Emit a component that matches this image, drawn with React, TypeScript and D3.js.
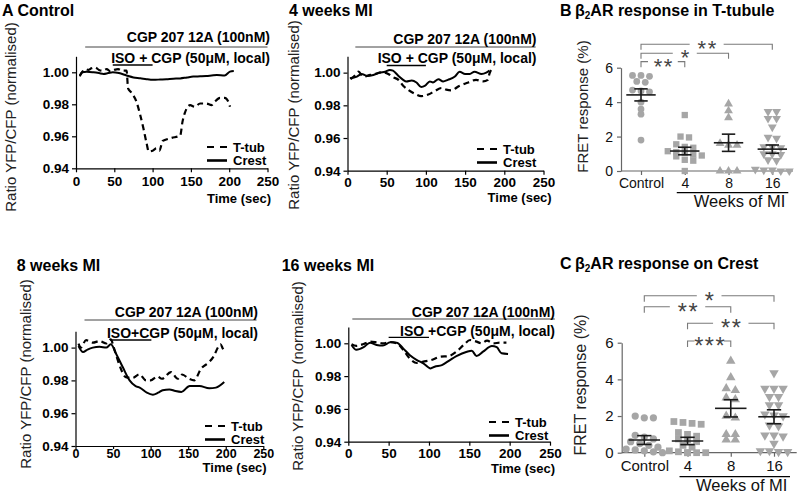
import * as d3 from "d3";
import { useEffect, useRef } from "react";

// ---------- time courses (time in sec, normalised YFP/CFP ratio) ----------
const ctlTubT = [5, 8, 12, 16, 20, 25, 30, 35, 40, 45, 50, 55, 60, 66, 68, 72, 79, 84, 88, 92, 95, 100, 105, 109, 113, 116, 125, 136, 139, 142, 149, 155, 162, 170, 177, 181, 188, 194, 199, 201];
const ctlTubV = [0.998, 1.0, 1.002, 1.0015, 1.0025, 1.003, 1.0015, 1.001, 1.002, 1.0005, 1.0015, 1.002, 1.001, 1.001, 0.99, 0.9875, 0.9815, 0.973, 0.965, 0.956, 0.9505, 0.951, 0.9525, 0.951, 0.957, 0.9577, 0.959, 0.9605, 0.969, 0.9745, 0.9795, 0.9785, 0.9805, 0.9805, 0.9795, 0.9815, 0.984, 0.984, 0.9815, 0.9785];
const ctlCrestT = [5, 8, 14, 23, 30, 36, 42, 48, 56, 66, 75, 84, 92, 101, 110, 118, 127, 136, 145, 153, 162, 170, 177, 184, 194, 201, 206];
const ctlCrestV = [0.9975, 1.0, 1.0004, 1.0, 0.9995, 0.999, 0.9995, 1.0, 0.9995, 0.998, 0.9968, 0.9963, 0.9957, 0.9953, 0.9955, 0.9957, 0.996, 0.9962, 0.9968, 0.9973, 0.9975, 0.9977, 0.998, 0.9983, 0.998, 1.0004, 1.0008];

const mi4TubT = [4, 10, 14, 20, 29, 35, 44, 52, 58, 65, 71, 77, 86, 94, 103, 111, 120, 126, 132, 143, 154, 164, 173, 179, 181, 183];
const mi4TubV = [0.996, 0.9986, 1.0006, 0.9976, 0.9986, 0.9992, 1.0002, 0.9992, 0.9972, 0.9956, 0.992, 0.9896, 0.987, 0.9856, 0.9866, 0.9886, 0.9906, 0.9896, 0.9892, 0.992, 0.994, 0.9956, 0.9946, 0.9956, 0.9992, 1.0016];
const mi4CrestT = [3, 12, 18, 25, 33, 41, 48, 54, 58, 65, 71, 75, 82, 88, 94, 99, 105, 109, 116, 122, 128, 137, 143, 150, 156, 162, 171, 177, 181];
const mi4CrestV = [0.9966, 0.9976, 0.9992, 0.998, 0.9986, 1.0, 1.0006, 1.0016, 1.0012, 0.998, 0.9956, 0.9946, 0.9952, 0.994, 0.9912, 0.992, 0.9946, 0.994, 0.996, 0.9946, 0.9956, 0.9976, 1.0006, 0.9992, 0.9992, 1.0006, 0.9992, 1.0, 1.0012];

const mi8TubT = [4, 7, 14, 23, 32, 41, 47, 51, 58, 67, 76, 85, 94, 100, 109, 115, 127, 136, 142, 151, 158, 167, 178, 184, 190, 193, 196, 199];
const mi8TubV = [1.0024, 1.0, 1.0045, 1.003, 1.004, 1.0025, 1.005, 1.0, 0.99, 0.982, 0.9815, 0.9837, 0.98, 0.98, 0.9824, 0.981, 0.9851, 0.981, 0.9836, 0.981, 0.98, 0.9871, 0.9912, 0.9947, 1.0004, 1.002, 0.9995, 0.997];
const mi8CrestT = [4, 10, 16, 23, 32, 41, 47, 54, 63, 72, 80, 86, 95, 103, 110, 116, 125, 133, 141, 152, 165, 178, 187, 198];
const mi8CrestV = [1.001, 0.9973, 0.9988, 1.0, 1.0005, 1.0, 1.002, 0.9963, 0.988, 0.98, 0.9765, 0.9755, 0.9725, 0.9713, 0.9725, 0.974, 0.9745, 0.9735, 0.973, 0.9766, 0.9766, 0.9752, 0.9756, 0.979];

const mi16TubT = [4, 10, 19, 27, 35, 43, 52, 60, 68, 76, 85, 93, 103, 114, 124, 134, 143, 151, 159, 165, 172, 180, 188, 196];
const mi16TubV = [0.9994, 0.9984, 0.9996, 1.001, 1.0006, 1.0, 1.0008, 1.0, 0.996, 0.9908, 0.988, 0.9888, 0.9898, 0.9918, 0.9922, 0.9949, 0.999, 1.002, 1.001, 1.0, 1.0016, 1.0, 1.0004, 1.0004];
const mi16CrestT = [4, 10, 19, 27, 35, 43, 52, 60, 68, 76, 85, 93, 102, 107, 116, 126, 134, 147, 153, 159, 167, 178, 184, 190, 198];
const mi16CrestV = [0.999, 0.996, 0.9976, 1.0004, 0.999, 0.9986, 1.0006, 1.0004, 0.9969, 0.9929, 0.9898, 0.9878, 0.9847, 0.9857, 0.9867, 0.9898, 0.9922, 0.9949, 0.9955, 0.9922, 0.9949, 0.9984, 0.9976, 0.9939, 0.9935];

const yTicksRatio = [0.94, 0.96, 0.98, 1.0];
const xTicksTime = [0, 50, 100, 150, 200, 250];
const legendLabels = ["T-tub", "Crest"];

// ---------- FRET responses (%) ----------
const groups = ["Control", "4", "8", "16"];
const yTicksFret = [0, 2, 4, 6];

const bCtl = [5.55, 5.55, 5.5, 5.2, 5.15, 4.7, 4.65, 4.6, 4.0, 3.6, 3.3, 1.8];
const bMi4 = [3.25, 2.0, 1.95, 1.55, 1.4, 1.35, 1.15, 1.1, 1.05, 0.95, 0.9, 0.85, 0.65, 0.6, 0.0];
const bMi8 = [3.9, 3.5, 3.1, 1.6, 1.5, 1.5, 0.0, 0.0, 0.0];
const bMi16 = [3.45, 3.45, 3.05, 3.05, 2.55, 1.95, 1.9, 1.4, 1.4, 1.35, 1.0, 1.0, 0.95, 0.65, 0.6, 0.1, 0.05, 0.05, 0.0, 0.0];
const bMean = [4.42, 1.16, 1.64, 1.27];
const bSem = [0.35, 0.22, 0.5, 0.24];
const bBrFrom = ["Control", "Control", "Control"];
const bBrTo = ["4", "8", "16"];
const bBrStars = ["**", "*", "**"];
const bBrH = [6.35, 6.84, 7.36];

const cCtl = [2.0, 1.9, 1.9, 0.95, 0.85, 0.75, 0.6, 0.5, 0.4, 0.3, 0.2, 0.15, 0.1, 0.05, 0.0];
const cMi4 = [1.7, 1.65, 1.6, 1.55, 1.1, 1.0, 0.9, 0.75, 0.7, 0.6, 0.4, 0.3, 0.1, 0.05, 0.0, 0.0, 0.0, 0.0];
const cMi8 = [5.0, 4.1, 3.5, 3.4, 3.0, 2.9, 2.0, 1.9, 1.0, 1.0, 0.7, 0.7];
const cMi16 = [4.35, 3.5, 3.5, 3.5, 3.05, 3.05, 2.6, 2.6, 2.1, 2.05, 2.0, 1.5, 1.45, 0.95, 0.95, 0.9, 0.5, 0.1, 0.1, 0.05, 0.05];
const cMean = [0.69, 0.64, 2.42, 1.96];
const cSem = [0.24, 0.2, 0.47, 0.38];
const cBrFrom = ["4", "4", "Control", "Control"];
const cBrTo = ["8", "16", "8", "16"];
const cBrStars = ["***", "**", "**", "*"];
const cBrH = [6.09, 7.06, 7.96, 8.56];

const FONT = "'Liberation Sans', Arial, Helvetica, sans-serif";
const GREY = "#a6a6a6";

type Sel = d3.Selection<SVGSVGElement, unknown, null, undefined>;

const linePanels = [
  {
    title: "A Control", tx: 2, ty: 16, x0: 76, x1: 267.5, yBot: 168.3, yTop: 56.3, labX: 16, labY: 117,
    tub: [ctlTubT, ctlTubV], crest: [ctlCrestT, ctlCrestV],
    cgp: [12, 250], cgpY: 42, cgpLineY: 47, iso: [48, 100], isoText: "ISO + CGP (50\u03bcM, local)", isoY: 63, isoLineY: 65,
    textEnd: 270, legX: 207, legY: 147, timeEnd: 271, timeY: 202.5, xPad: 4, xFs: 13.5, xTick: 4,
  },
  {
    title: "4 weeks MI", tx: 289, ty: 16, x0: 347.5, x1: 543.5, yBot: 170.7, yTop: 56.3, labX: 299, labY: 115,
    tub: [mi4TubT, mi4TubV], crest: [mi4CrestT, mi4CrestV],
    cgp: [10, 240], cgpY: 44, cgpLineY: 47, iso: [50, 100], isoText: "ISO + CGP (50\u03bcM, local)", isoY: 63, isoLineY: 65.5,
    textEnd: 536.5, legX: 477, legY: 149, timeEnd: 551.7, timeY: 202, xPad: 2.5, xFs: 13.5, xTick: 4,
  },
  {
    title: "8 weeks MI", tx: 16.7, ty: 271, x0: 75.5, x1: 263.3, yBot: 446, yTop: 331.2, labX: 31, labY: 374,
    tub: [mi8TubT, mi8TubV], crest: [mi8CrestT, mi8CrestV],
    cgp: [12, 241], cgpY: 316.5, cgpLineY: 320, iso: [46, 101], isoText: "ISO+CGP (50\u03bcM, local)", isoY: 338, isoLineY: 340,
    textEnd: 258, legX: 205, legY: 426, timeEnd: 266.7, timeY: 471.5, xPad: 0, xFs: 12.5, xTick: 3,
  },
  {
    title: "16 weeks MI", tx: 281.7, ty: 271, x0: 348.3, x1: 550, yBot: 441.7, yTop: 326.9, labX: 303, labY: 376,
    tub: [mi16TubT, mi16TubV], crest: [mi16CrestT, mi16CrestV],
    cgp: [5, 256], cgpY: 316.5, cgpLineY: 319, iso: [50, 100], isoText: "ISO +CGP (50\u03bcM, local)", isoY: 335.5, isoLineY: 337.3,
    textEnd: 555, legX: 489, legY: 422, timeEnd: 555, timeY: 472.5, xPad: 3, xFs: 13.5, xTick: 4,
  },
];

const scatterPanels = [
  {
    letter: "B", rest: "AR response in T-tubule", ty: 16, yBot: 171, yTop: 67.7, c0: 641, c1: 772.3, axX: 621, axEnd: 793,
    vals: [bCtl, bMi4, bMi8, bMi16], mean: bMean, sem: bSem,
    brFrom: bBrFrom, brTo: bBrTo, brStars: bBrStars, brH: bBrH,
    tickFs: 14, catY: 188, weeksLineY: 192.7, weeksY: 207, labX: 588, labY: 106.5, labFs: 15, k: 1,
  },
  {
    letter: "C", rest: "AR response on Crest", ty: 269, yBot: 452.7, yTop: 342.7, c0: 644.3, c1: 774, axX: 621.7, axEnd: 796.7,
    vals: [cCtl, cMi4, cMi8, cMi16], mean: cMean, sem: cSem,
    brFrom: cBrFrom, brTo: cBrTo, brStars: cBrStars, brH: cBrH,
    tickFs: 15, catY: 471.5, weeksLineY: 476.7, weeksY: 490.5, labX: 586, labY: 385, labFs: 16, k: 1.07,
  },
];

function drawLinePanel(svg: Sel, p: (typeof linePanels)[0]) {
  const x = d3.scaleLinear().domain([0, 250]).range([p.x0, p.x1]);
  const y = d3.scaleLinear().domain([0.94, 1.01]).range([p.yBot, p.yTop]);
  const g = svg.append("g");

  const styleAxis = (a: d3.Selection<SVGGElement, unknown, null, undefined>, fs: number) => {
    a.attr("font-family", FONT).attr("font-size", fs).attr("font-weight", "bold");
    a.selectAll("path, line").attr("stroke", "#000").attr("stroke-width", 1.2);
    a.selectAll("text").attr("fill", "#000");
  };

  g.append("g")
    .attr("transform", `translate(${p.x0},0)`)
    .call(d3.axisLeft(y).tickValues(yTicksRatio).tickFormat(d3.format(".2f")).tickSize(4).tickSizeOuter(0).tickPadding(3))
    .call(styleAxis, 13.5);
  g.append("g")
    .attr("transform", `translate(0,${p.yBot})`)
    .call(
      d3
        .axisBottom(x)
        .tickValues(xTicksTime)
        .tickFormat(d3.format("d"))
        .tickSize(p.xTick)
        .tickSizeOuter(0)
        .tickPadding(p.xPad),
    )
    .call(styleAxis, p.xFs);

  // traces
  const line = (t: number[]) =>
    d3
      .line<number>()
      .x((_, i) => x(t[i]))
      .y(d => y(d))
      .curve(d3.curveMonotoneX);
  g.append("path")
    .attr("d", line(p.crest[0])(p.crest[1]))
    .attr("fill", "none")
    .attr("stroke", "#000")
    .attr("stroke-width", 2);
  g.append("path")
    .attr("d", line(p.tub[0])(p.tub[1]))
    .attr("fill", "none")
    .attr("stroke", "#000")
    .attr("stroke-width", 2.2)
    .attr("stroke-dasharray", "6,4");

  // drug application bars
  g.append("line")
    .attr("x1", x(p.cgp[0]))
    .attr("x2", x(p.cgp[1]))
    .attr("y1", p.cgpLineY)
    .attr("y2", p.cgpLineY)
    .attr("stroke", "#444")
    .attr("stroke-width", 1);
  g.append("text")
    .attr("x", p.textEnd)
    .attr("y", p.cgpY)
    .attr("text-anchor", "end")
    .attr("font-family", FONT)
    .attr("font-size", 14)
    .attr("font-weight", "bold")
    .text("CGP 207 12A (100nM)");
  g.append("line")
    .attr("x1", x(p.iso[0]))
    .attr("x2", x(p.iso[1]))
    .attr("y1", p.isoLineY)
    .attr("y2", p.isoLineY)
    .attr("stroke", "#000")
    .attr("stroke-width", 1.3);
  g.append("text")
    .attr("x", p.textEnd)
    .attr("y", p.isoY)
    .attr("text-anchor", "end")
    .attr("font-family", FONT)
    .attr("font-size", 14)
    .attr("font-weight", "bold")
    .text(p.isoText);

  // legend
  legendLabels.forEach((lab, i) => {
    const ly = p.legY + i * 13.5;
    g.append("line")
      .attr("x1", p.legX)
      .attr("x2", p.legX + 20)
      .attr("y1", ly)
      .attr("y2", ly)
      .attr("stroke", "#000")
      .attr("stroke-width", i === 0 ? 2.2 : 2.6)
      .attr("stroke-dasharray", i === 0 ? "7,6" : null);
    g.append("text")
      .attr("x", p.legX + 26)
      .attr("y", ly + 4.5)
      .attr("font-family", FONT)
      .attr("font-size", 13)
      .attr("font-weight", "bold")
      .text(lab);
  });

  g.append("text")
    .attr("x", p.timeEnd)
    .attr("y", p.timeY)
    .attr("text-anchor", "end")
    .attr("font-family", FONT)
    .attr("font-size", 13)
    .attr("font-weight", "bold")
    .text("Time (sec)");

  g.append("text")
    .attr("transform", `translate(${p.labX},${p.labY}) rotate(-90)`)
    .attr("text-anchor", "middle")
    .attr("font-family", FONT)
    .attr("font-size", 15)
    .attr("fill", "#222")
    .text("Ratio YFP/CFP (normalised)");

  g.append("text")
    .attr("x", p.tx)
    .attr("y", p.ty)
    .attr("font-family", FONT)
    .attr("font-size", 16)
    .attr("font-weight", "bold")
    .text(p.title);
}

// spread points of similar value sideways, GraphPad style
function swarm(vals: number[], tol: number, step: number) {
  const sorted = [...vals].sort((a, b) => b - a);
  const rows: number[][] = [];
  for (const v of sorted) {
    const r = rows[rows.length - 1];
    if (r && r[0] - v <= tol && r.length < 5) r.push(v);
    else rows.push([v]);
  }
  return rows.flatMap(r => r.map((v, i) => ({ v, dx: (i - (r.length - 1) / 2) * step })));
}

function drawScatter(svg: Sel, p: (typeof scatterPanels)[0]) {
  const x = d3.scalePoint<string>().domain(groups).range([p.c0, p.c1]);
  const y = d3.scaleLinear().domain([0, 6]).range([p.yBot, p.yTop]);
  const g = svg.append("g");
  const k = p.k;

  const ya = g
    .append("g")
    .attr("transform", `translate(${p.axX},0)`)
    .call(d3.axisLeft(y).tickValues(yTicksFret).tickFormat(d3.format("d")).tickSize(4).tickSizeOuter(0).tickPadding(4));
  ya.attr("font-family", FONT).attr("font-size", p.tickFs);
  ya.selectAll("path, line").attr("stroke", "#666").attr("stroke-width", 1.2);
  ya.selectAll("text").attr("fill", "#111");

  const xa = g
    .append("g")
    .attr("transform", `translate(0,${p.yBot})`)
    .call(d3.axisBottom(x).tickSize(4).tickSizeOuter(0).tickPadding(3));
  xa.select(".domain").remove();
  xa.attr("font-family", FONT).attr("font-size", p.tickFs);
  xa.selectAll("line").attr("stroke", "#666").attr("stroke-width", 1.2);
  xa.selectAll("text").attr("fill", "#111").attr("dy", null).attr("y", p.catY - p.yBot);
  g.append("line")
    .attr("x1", p.axX)
    .attr("x2", p.axEnd)
    .attr("y1", p.yBot)
    .attr("y2", p.yBot)
    .attr("stroke", "#666")
    .attr("stroke-width", 1.2);

  // points
  const shapes = [d3.symbolCircle, d3.symbolSquare, d3.symbolTriangle, d3.symbolTriangle];
  const sizes = [36, 40, 34, 34];
  p.vals.forEach((vals, gi) => {
    const cx = x(groups[gi])!;
    const sym = d3.symbol(shapes[gi], sizes[gi] * k * k)();
    swarm(vals, 0.3, 8.5 * k).forEach(d => {
      g.append("path")
        .attr("d", sym)
        .attr("fill", GREY)
        .attr("transform", `translate(${cx + d.dx},${y(d.v)})${gi === 3 ? " rotate(180)" : ""}`);
    });
  });

  // mean +/- SEM
  p.mean.forEach((m, gi) => {
    const cx = x(groups[gi])!;
    const s = p.sem[gi];
    const mg = g.append("g").attr("stroke", "#1a1a1a").attr("stroke-width", 1.6);
    mg.append("line").attr("x1", cx - 14.7 * k).attr("x2", cx + 14.7 * k).attr("y1", y(m)).attr("y2", y(m));
    mg.append("line").attr("x1", cx).attr("x2", cx).attr("y1", y(m - s)).attr("y2", y(m + s));
    [m - s, m + s].forEach(v =>
      mg.append("line").attr("x1", cx - 6.7 * k).attr("x2", cx + 6.7 * k).attr("y1", y(v)).attr("y2", y(v)),
    );
  });

  // significance brackets
  p.brH.forEach((h, i) => {
    const xa1 = x(p.brFrom[i])!;
    const xb = x(p.brTo[i])!;
    const by = y(h);
    const drop = 5.5 * k;
    g.append("path")
      .attr("d", `M${xa1},${by + drop}V${by}H${xb}V${by + drop}`)
      .attr("fill", "none")
      .attr("stroke", "#7a7a7a")
      .attr("stroke-width", 1.1);
    const mid = (xa1 + xb) / 2;
    const n = p.brStars[i].length;
    const w = Math.min(n * 10 * k + 14, xb - xa1 - 14);
    g.append("rect")
      .attr("x", mid - w / 2)
      .attr("y", by - 3)
      .attr("width", w)
      .attr("height", 6)
      .attr("fill", "#fff");
    g.append("text")
      .attr("x", mid + 1)
      .attr("y", by + 12 * k)
      .attr("text-anchor", "middle")
      .attr("font-family", FONT)
      .attr("font-size", 22 * k)
      .attr("letter-spacing", 1.5)
      .attr("fill", "#444")
      .text(p.brStars[i]);
  });

  // "Weeks of MI" group bar
  g.append("line")
    .attr("x1", x("4")! - 8)
    .attr("x2", x("16")! + 16)
    .attr("y1", p.weeksLineY)
    .attr("y2", p.weeksLineY)
    .attr("stroke", "#000")
    .attr("stroke-width", 1.3);
  g.append("text")
    .attr("x", (x("4")! - 8 + x("16")! + 16) / 2 + 7)
    .attr("y", p.weeksY)
    .attr("text-anchor", "middle")
    .attr("font-family", FONT)
    .attr("font-size", 16.5)
    .attr("fill", "#111")
    .text("Weeks of MI");

  g.append("text")
    .attr("transform", `translate(${p.labX},${p.labY}) rotate(-90)`)
    .attr("text-anchor", "middle")
    .attr("font-family", FONT)
    .attr("font-size", p.labFs)
    .attr("fill", "#222")
    .text("FRET response (%)");

  const t = g
    .append("text")
    .attr("y", p.ty)
    .attr("font-family", FONT)
    .attr("font-size", 16)
    .attr("font-weight", "bold");
  t.append("tspan").attr("x", 560).text(p.letter);
  t.append("tspan").attr("x", 575).text("\u03b2");
  t.append("tspan").attr("font-size", 10).attr("dy", 3).text("2");
  t.append("tspan").attr("dy", -3).text(p.rest);
}

export default function App() {
  const ref = useRef<SVGSVGElement>(null);

  useEffect(() => {
    if (!ref.current) return;
    const svg = d3.select(ref.current);
    svg.selectAll("*").remove();
    linePanels.forEach(p => drawLinePanel(svg, p));
    scatterPanels.forEach(p => drawScatter(svg, p));
  }, []);

  return (
    <svg
      ref={ref}
      width={800}
      height={494}
      style={{ position: "absolute", left: 0, top: 0, background: "#fff", display: "block" }}
    />
  );
}
